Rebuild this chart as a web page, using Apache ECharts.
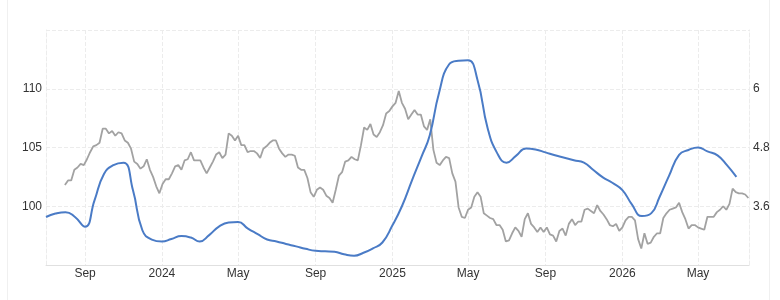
<!DOCTYPE html>
<html>
<head>
<meta charset="utf-8">
<script src="https://cdn.jsdelivr.net/npm/echarts@6/dist/echarts.min.js"></script>
<style>
  html, body { margin: 0; padding: 0; background: #fff; }
  .frame { position: absolute; left: 7px; top: 0; width: 761px; height: 300px; border-left: 1px solid #f0f0f0; border-right: 1px solid #f0f0f0; }
  #chart { position: absolute; left: 0; top: 0; width: 780px; height: 300px; }
</style>
</head>
<body>
<div class="frame"></div>
<div id="chart"></div>
<script>
// gray series: one reading every 5 days starting 31 Jul 2023 (left axis)
const grayStart = new Date(2023, 6, 31).getTime()
const grayStepDays = 5
const grayValues = [
  101.8, 102.2, 102.2, 103.1, 103.3, 103.6, 103.5, 104.0, 104.6, 105.1,
  105.2, 105.4, 106.6, 106.6, 106.2, 106.4, 106.0, 106.3, 106.2, 105.6,
  105.4, 104.9, 103.8, 103.6, 103.2, 103.4, 104.0, 103.1, 102.5, 101.7,
  101.1, 101.9, 102.3, 102.3, 102.8, 103.4, 103.5, 103.1, 103.9, 104.0,
  104.6, 103.9, 103.9, 103.9, 103.3, 102.8, 103.3, 103.8, 104.4, 104.6,
  104.1, 104.4, 106.2, 106.0, 105.6, 106.0, 105.2, 105.2, 104.6, 104.7,
  104.7, 104.5, 104.1, 104.9, 105.1, 105.4, 105.6, 105.6, 104.9, 104.5,
  104.2, 104.4, 104.4, 104.3, 103.3, 103.1, 103.1, 102.4, 101.2, 100.8,
  101.4, 101.6, 101.4, 100.9, 100.7, 100.3, 101.4, 102.6, 102.9, 103.8,
  103.9, 104.2, 104.0, 103.9, 105.2, 106.7, 106.5, 107.0, 106.1, 105.9,
  106.3, 106.9, 107.9, 108.1, 108.5, 108.8, 109.8, 108.8, 108.3, 107.4,
  107.8, 108.2, 107.8, 107.8, 106.8, 106.5, 107.4, 104.8, 103.7, 103.5,
  103.9, 104.2, 104.1, 102.8, 102.1, 99.9, 99.1, 99.0, 99.7, 99.9,
  100.8, 101.2, 100.8, 99.4, 99.2, 99.0, 98.9, 98.4, 98.4, 98.0,
  97.0, 97.1, 97.7, 98.2, 97.9, 97.4, 98.9, 99.4, 98.5, 98.2,
  97.8, 98.2, 97.8, 98.2, 97.6, 97.5, 97.0, 97.9, 98.1, 97.5,
  98.5, 98.9, 98.4, 98.7, 98.7, 99.7, 99.8, 99.6, 99.4, 100.1,
  99.6, 99.3, 98.9, 98.4, 98.3, 98.5, 97.9, 98.2, 98.8, 99.1,
  99.1, 98.8, 97.2, 96.4, 97.7, 96.8, 96.9, 97.4, 97.7, 97.7,
  99.0, 99.4, 99.7, 99.8, 99.9, 100.3, 99.5, 98.9, 98.1, 98.4,
  98.4, 98.2, 98.1, 98.0, 99.1, 99.1, 99.1, 99.5, 99.7, 100.0,
  99.7, 100.2, 101.5, 101.2, 101.1, 101.1, 101.0, 100.7
]

// blue series: twice a month (1st and 16th) from 1 Jul 2023 (right axis)
const blueStartYear = 2023
const blueStartMonth = 6
const blueValues = [
  3.38, 3.45, 3.48, 3.38, 3.18, 3.72, 4.26, 4.44, 4.49, 3.93, 3.11, 2.92, // Jul-Dec 2023
  2.88, 2.93, 2.99, 2.96, 2.88, 3.01, 3.19, 3.27, 3.28, 3.15, 3.03, 2.92, // Jan-Jun 2024
  2.88, 2.83, 2.78, 2.73, 2.69, 2.68, 2.67, 2.62, 2.59, 2.65, 2.74, 2.86, // Jul-Dec 2024
  3.21, 3.60, 4.13, 4.61, 5.04, 5.92, 6.50, 6.57, 6.58, 6.18, 5.20, 4.69, // Jan-Jun 2025
  4.49, 4.63, 4.78, 4.76, 4.70, 4.64, 4.59, 4.54, 4.49, 4.34, 4.19, 4.08, // Jul-Dec 2025
  3.93, 3.64, 3.40, 3.46, 3.79, 4.22, 4.65, 4.75, 4.80, 4.72, 4.64, 4.44, // Jan-Jun 2026
  4.20
]

// x axis ticks
const tickDates = ['2023-09-01', '2024-01-01', '2024-05-01', '2024-09-01',
  '2025-01-01', '2025-05-01', '2025-09-01', '2026-01-01', '2026-05-01']
const monthNames = ['Jan', 'Feb', 'Mar', 'Apr', 'May', 'Jun', 'Jul', 'Aug', 'Sep', 'Oct', 'Nov', 'Dec']

const toTime = (s) => {
  const p = s.split('-')
  return new Date(+p[0], +p[1] - 1, +p[2]).getTime()
}
const tickValues = tickDates.map(toTime)

const grayData = grayValues.map((v, i) => [grayStart + i * grayStepDays * 86400000, v])
const blueData = blueValues.map((v, i) => [
  new Date(blueStartYear, blueStartMonth + Math.floor(i / 2), i % 2 ? 16 : 1).getTime(), v
])

const labelFont = {
  color: '#333',
  fontSize: 12,
  fontFamily: 'Liberation Sans, Arial, sans-serif'
}
const gridLine = { color: '#ececec', type: 'dashed', width: 1 }

const myChart = echarts.init(document.getElementById('chart'), null, { renderer: 'canvas' })
const option = {
  animation: false,
  grid: { left: 46, right: 31, top: 30, bottom: 35, containLabel: false },
  xAxis: {
    // timestamps on a value axis so the 4-monthly ticks can be pinned
    type: 'value',
    min: new Date(2023, 6, 1).getTime(),
    max: new Date(2026, 6, 21).getTime(),
    axisLine: { show: true, lineStyle: { color: '#e0e0e0' } },
    axisTick: { show: false, customValues: tickValues },
    axisLabel: Object.assign({
      customValues: tickValues,
      margin: 3,
      formatter: (val) => {
        const d = new Date(val)
        return d.getMonth() === 0 ? String(d.getFullYear()) : monthNames[d.getMonth()]
      }
    }, labelFont),
    splitLine: { show: true, lineStyle: gridLine }
  },
  yAxis: [
    {
      type: 'value',
      min: 95,
      max: 115,
      interval: 5,
      position: 'left',
      axisLine: { show: true, lineStyle: gridLine },
      axisTick: { show: false },
      axisLabel: Object.assign({ showMinLabel: false, showMaxLabel: false, margin: 4 }, labelFont),
      splitLine: { show: true, lineStyle: gridLine }
    },
    {
      type: 'value',
      min: 2.4,
      max: 7.2,
      interval: 1.2,
      position: 'right',
      axisLine: { show: true, lineStyle: gridLine },
      axisTick: { show: false },
      axisLabel: Object.assign({
        showMinLabel: false,
        showMaxLabel: false,
        margin: 4,
        formatter: (v) => String(parseFloat(v.toFixed(2)))
      }, labelFont),
      splitLine: { show: false }
    }
  ],
  series: [
    {
      name: 'gray',
      type: 'line',
      yAxisIndex: 0,
      data: grayData,
      showSymbol: false,
      lineStyle: { color: '#a2a2a2', width: 1.8 },
      z: 2
    },
    {
      name: 'blue',
      type: 'line',
      yAxisIndex: 1,
      data: blueData,
      smooth: 0.5,
      showSymbol: false,
      lineStyle: { color: '#4a7bc6', width: 2 },
      z: 3
    }
  ]
}
option && myChart.setOption(option)
</script>
</body>
</html>
